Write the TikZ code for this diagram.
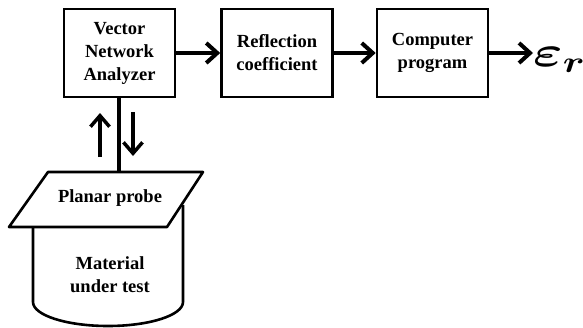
\RequirePackage{fix-cm}
\documentclass[tikz,border=0pt]{standalone}
\usepackage{amsmath}
\usepackage{bm}
\usepackage{fontspec}
\setmainfont{Liberation Serif}
\usetikzlibrary{arrows.meta,positioning}

\tikzset{
  blockbox/.style={rectangle, draw=black, fill=white, line width=2.6pt, minimum width=111pt, minimum height=88pt, align=center, font=\fontsize{18.5}{23}\selectfont\bfseries},
  flowarrow/.style={-{Straight Barb[length=11pt,width=20pt]}, line width=4pt},
  smallarrow/.style={-{Straight Barb[length=11pt,width=19pt]}, line width=3.5pt},
  shapeline/.style={line width=2.6pt, line join=round},
  labeltext/.style={align=center, font=\fontsize{18.5}{23}\selectfont\bfseries}
}

\begin{document}
\begin{tikzpicture}[x=1pt,y=1pt]
    \useasboundingbox (0,0) rectangle (583,-327);

    % Blocks
    \node[blockbox] (vna) at (119.5,-53) {Vector\\Network\\Analyzer};
    \node[blockbox] (refl) at (277,-53) {Reflection\\coefficient};
    \node[blockbox] (comp) at (432.5,-53) {Computer\\program};

    % Output
    \node[inner sep=0pt, anchor=west] (epsr) at (533,-60) {\scalebox{1.3}[1]{\fontsize{43}{43}\selectfont$\bm{\varepsilon}_{\bm{r}}$}};

    % Material under test (cylinder)
    \draw[shapeline] (33,-205) -- (33,-302) arc[start angle=180, end angle=360, x radius=75, y radius=24] -- (183,-205);
    \node[labeltext] (mut) at (110,-275) {Material\\under test};

    % Planar probe
    \draw[shapeline, fill=white] (48,-172) -- (203,-172) -- (167,-227) -- (9,-227) -- cycle;
    \node[labeltext] (probe) at (110,-198) {Planar probe};
    \coordinate (probetop) at (119,-172);

    % Arrows
    \draw[flowarrow] (vna) -- (refl);
    \draw[flowarrow] (refl) -- (comp);
    \draw[flowarrow] (comp.east) -- (epsr.west |- comp.east);
    \draw[line width=4pt] (vna.south -| probetop) -- (probetop);
    \draw[smallarrow] (100,-157) -- (100,-113);
    \draw[smallarrow] (133,-112) -- (133,-156);
\end{tikzpicture}
\end{document}
